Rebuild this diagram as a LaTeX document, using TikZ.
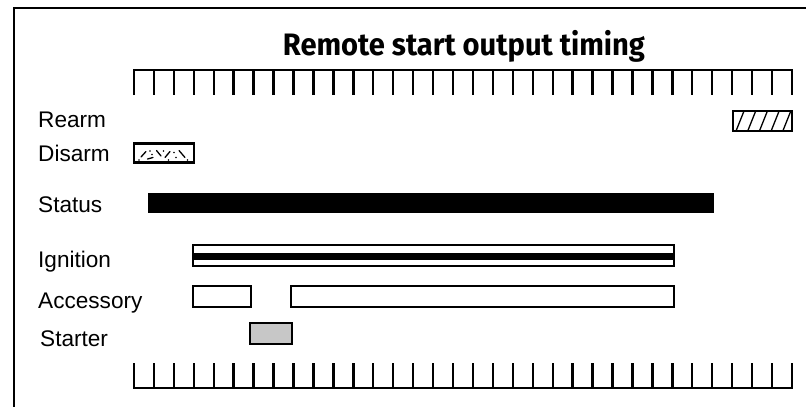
\documentclass[tikz,border=0pt]{standalone}
\usepackage{fontspec}
\setmainfont{Liberation Sans}
\newfontfamily\titlefont{Fira Sans}
\usetikzlibrary{calc}
\begin{document}
\begin{tikzpicture}[x=1pt,y=-1pt,
  lw/.style={line width=2.4pt},
  lbl/.style={anchor=base west,inner sep=0pt,font=\fontsize{22.6}{25}\selectfont},
  barbox/.style={draw,lw,inner sep=0pt,outer sep=0pt},
  marks/.style={line width=1.3pt,line cap=round}]
\useasboundingbox (0,0) rectangle (806,407);
% frame
\draw[lw] (14,407) -- (14,8) -- (806,8);
% title
\node[inner sep=0pt] (title) at (464,46) {\resizebox{362pt}{\height}{\titlefont\bfseries\fontsize{31}{34}\selectfont Remote start output timing}};
% top ruler
\draw[lw] (134,95) -- (134,70) -- (792,70) -- (792,95);
\foreach \i in {1,...,32} \draw[lw] ({134+\i*19.939},70) -- ({134+\i*19.939},95);
% bottom ruler
\draw[lw] (134,363) -- (134,388) -- (792,388) -- (792,363);
\foreach \i in {1,...,32} \draw[lw] ({134+\i*19.939},388) -- ({134+\i*19.939},363);
% labels
\node[lbl] (lrearm) at (38,127) {Rearm};
\node[lbl] (ldisarm) at (38,161.5) {Disarm};
\node[lbl] (lstatus) at (38,212) {Status};
\node[lbl] (lign) at (38,267) {Ignition};
\node[lbl] (lacc) at (38,308) {Accessory};
\node[lbl] (lstart) at (40,346) {Starter};
% rearm hatched
\node[barbox,minimum width=59pt,minimum height=20pt] (rearm) at (762.5,121) {};
\begin{scope}
\clip (733,111) rectangle (792,131);
\foreach \k in {0,...,4} \draw[line width=1.3pt] ({736+11.7*\k},131) -- ({744+11.7*\k},111);
\end{scope}
% disarm
\node[barbox,minimum width=60pt,minimum height=19pt] (disarm) at (164,153) {};
\draw[marks] (141,157) -- (146,151.5);
\draw[marks] (147.5,159) -- (153,157.5);
\draw[marks] (156.5,150.5) -- (161,156);
\draw[marks] (165,157.5) -- (170,151.5);
\draw[marks] (179,150.5) -- (185,157.5);
\foreach \p in {(139,160),(150,151),(152,154.5),(163.5,151),(168.5,160),(174,152.5),(176,157.5),(187.5,160)}
  \fill \p circle (0.9pt);
% status
\node[fill=black,inner sep=0pt,minimum width=566pt,minimum height=20pt] (status) at (431,203) {};
% ignition
\node[barbox,minimum width=481pt,minimum height=21pt] (ign) at (433.5,255.5) {};
\node[fill=black,inner sep=0pt,minimum width=481pt,minimum height=7pt] (ignin) at (433.5,256.3) {};
% accessory
\node[barbox,minimum width=58pt,minimum height=21pt] (acc1) at (222,296.5) {};
\node[barbox,minimum width=383pt,minimum height=21pt] (acc2) at (482.5,296.5) {};
% starter
\node[barbox,fill=black!22,minimum width=42pt,minimum height=21pt] (starter) at (271,333.5) {};
\end{tikzpicture}
\end{document}
